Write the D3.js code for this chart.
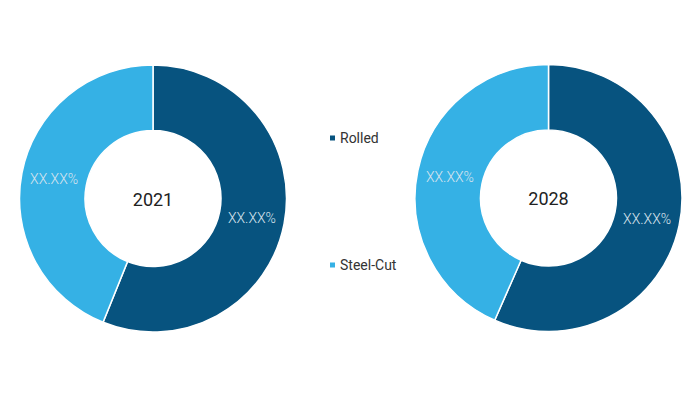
<!DOCTYPE html>
<html>
<head>
<meta charset="utf-8">
<script src="https://cdn.jsdelivr.net/npm/d3@7"></script>
<style>
  body { margin: 0; background: #fff; }
  svg { display: block; }
</style>
</head>
<body>
<div id="chart"></div>
<script>
const years = ['2021', '2028'];
const segments = ['Rolled', 'Steel-Cut'];
const values2021 = [56.1, 43.9];
const values2028 = [56.6, 43.4];
const sliceLabels = ['XX.XX%', 'XX.XX%'];

const width = 700;
const height = 394;
const outerR = 133.5;
const innerR = 68;
const centers = [[153, 198.5], [548.5, 198]];

const color = d3.scaleOrdinal()
    .domain(segments)
    .range(['#07537f', '#35b1e5']);

const svg = d3.select('#chart')
    .append('svg')
    .attr('width', width)
    .attr('height', height);

const pie = d3.pie().sort(null).value(d => d.value);
const arc = d3.arc().innerRadius(innerR).outerRadius(outerR);

[values2021, values2028].forEach((vals, k) => {
  const data = segments.map((s, i) => ({ name: s, value: vals[i], label: sliceLabels[i] }));
  const g = svg.append('g')
      .attr('transform', `translate(${centers[k][0]},${centers[k][1]})`);

  const arcs = pie(data);

  g.selectAll('path')
    .data(arcs)
    .enter()
    .append('path')
    .attr('d', arc)
    .attr('fill', d => color(d.data.name))
    .attr('stroke', '#fff')
    .attr('stroke-width', 1.5);

  g.selectAll('text.lbl')
    .data(arcs)
    .enter()
    .append('text')
    .attr('class', 'lbl')
    .attr('x', d => arc.centroid(d)[0])
    .attr('y', d => arc.centroid(d)[1])
    .attr('dy', '0.35em')
    .attr('text-anchor', 'middle')
    .style('font-family', 'Roboto, sans-serif')
    .style('font-weight', 300)
    .style('font-size', '14px')
    .style('fill', '#dbe4ee')
    .text(d => d.data.label);

  g.append('text')
    .attr('y', 1)
    .attr('dy', '0.35em')
    .attr('text-anchor', 'middle')
    .style('font-family', 'Roboto, sans-serif')
    .style('font-size', '18px')
    .style('fill', '#222')
    .text(years[k]);
});

const legendY = d3.scalePoint().domain(segments).range([138, 265]);

const legend = svg.append('g');
legend.selectAll('rect')
  .data(segments)
  .enter()
  .append('rect')
  .attr('x', 330)
  .attr('y', d => legendY(d) - 2.5)
  .attr('width', 5)
  .attr('height', 5)
  .attr('fill', d => color(d));

legend.selectAll('text')
  .data(segments)
  .enter()
  .append('text')
  .attr('x', 340)
  .attr('y', d => legendY(d))
  .attr('dy', '0.35em')
  .style('font-family', 'Roboto, sans-serif')
  .style('font-size', '14px')
  .style('fill', '#333')
  .text(d => d);
</script>
</body>
</html>
